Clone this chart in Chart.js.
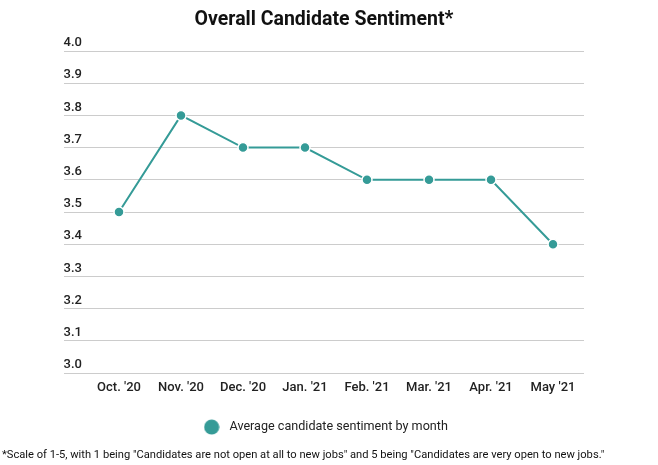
<!DOCTYPE html>
<html>
<head>
<meta charset="utf-8">
<script src="https://cdn.jsdelivr.net/npm/chart.js@4/dist/chart.umd.min.js"></script>
<style>
  html, body { margin: 0; padding: 0; background: #fff; }
  #wrap { width: 658px; height: 465px; }
</style>
</head>
<body>
<div id="wrap"><canvas id="myChart"></canvas></div>
<script>
  // Overall candidate sentiment, Oct '20 - May '21
  const months = ["Oct. '20", "Nov. '20", "Dec. '20", "Jan. '21", "Feb. '21", "Mar. '21", "Apr. '21", "May '21"];
  const sentiment = [3.5, 3.8, 3.7, 3.7, 3.6, 3.6, 3.6, 3.4];
  const seriesName = 'Average candidate sentiment by month';
  const footnote = '*Scale of 1-5, with 1 being "Candidates are not open at all to new jobs" and 5 being "Candidates are very open to new jobs."';

  const teal = '#359b97';

  // legend marker: plain dot, drawn once on a small canvas
  const dot = document.createElement('canvas');
  dot.width = 16;
  dot.height = 16;
  const dctx = dot.getContext('2d');
  dctx.fillStyle = teal;
  dctx.beginPath();
  dctx.arc(8, 8, 7.6, 0, Math.PI * 2);
  dctx.fill();

  // the negative label padding below would otherwise leak into the layout
  function noScalePadding(scale, width) {
    if (width) scale.width = width;
    scale.paddingTop = 0;
    scale.paddingBottom = 0;
    scale.paddingLeft = 0;
    scale.paddingRight = 0;
  }

  const ctx = document.getElementById('myChart');
  const myChart = new Chart(ctx, {
    type: 'line',
    data: {
      labels: months,
      datasets: [{
        label: seriesName,
        data: sentiment,
        borderColor: teal,
        backgroundColor: teal,
        borderWidth: 2,
        pointRadius: 5,
        pointBorderColor: '#fff',
        pointBorderWidth: 1.5,
        pointBackgroundColor: teal,
        tension: 0,
        yAxisID: 'y'
      }]
    },
    options: {
      responsive: true,
      maintainAspectRatio: false,
      animation: false,
      layout: { padding: { left: 2, right: 12, top: 0, bottom: 0 } },
      plugins: {
        title: {
          display: true,
          text: 'Overall Candidate Sentiment*',
          color: '#111',
          font: { family: 'Roboto', size: 19.5, weight: 'bold' },
          padding: { top: 8, bottom: 19.6 }
        },
        subtitle: {
          display: true,
          text: footnote,
          position: 'bottom',
          align: 'start',
          color: '#111',
          font: { family: 'Roboto', size: 11.15 },
          padding: { top: 5.3, bottom: 3 }
        },
        legend: {
          position: 'bottom',
          labels: {
            usePointStyle: true,
            pointStyle: dot,
            pointStyleWidth: 23,
            boxHeight: 11,
            color: '#222',
            font: { family: 'Roboto', size: 12.6 },
            padding: 26.1
          }
        },
        tooltip: { enabled: false }
      },
      scales: {
        x: {
          offset: true,
          afterFit: (scale) => noScalePadding(scale),
          grid: { display: false },
          border: { display: false },
          ticks: {
            color: '#222',
            font: { family: 'Roboto', size: 13, weight: '500' },
            padding: -1,
            maxRotation: 0
          }
        },
        y: {
          min: 3.0,
          max: 4.0,
          afterFit: (scale) => noScalePadding(scale, 86),
          grid: { color: '#cccccc', lineWidth: 1, drawTicks: true, tickLength: 24, tickColor: '#cccccc' },
          border: { display: false },
          ticks: {
            stepSize: 0.1,
            color: '#222',
            font: { family: 'Roboto', size: 13, weight: '500' },
            padding: -18,
            labelOffset: -8,
            callback: (v) => Number(v).toFixed(1)
          }
        },
        // empty right-hand axis, only keeps the plot clear of the right margin
        yRight: {
          position: 'right',
          min: 3.0,
          max: 4.0,
          afterFit: (scale) => noScalePadding(scale, 62),
          grid: { display: false },
          border: { display: false },
          ticks: { display: false }
        }
      }
    }
  });
</script>
</body>
</html>
